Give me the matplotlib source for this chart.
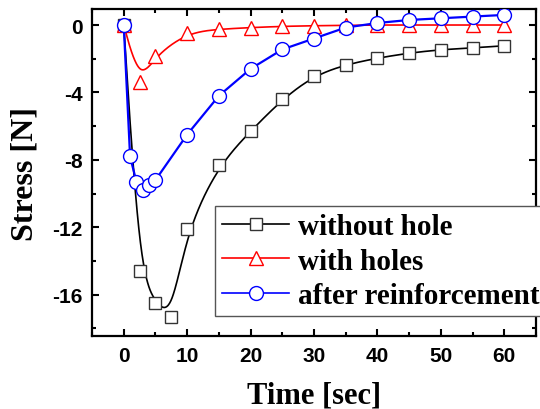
import numpy as np
import matplotlib.pyplot as plt
from matplotlib.ticker import MultipleLocator

plt.rcParams['axes.unicode_minus'] = False

# data
t_nohole = [0, 2.5, 5, 7.5, 10, 15, 20, 25, 30, 35, 40, 45, 50, 55, 60]
s_nohole = [0, -14.6, -16.5, -17.3, -12.1, -8.3, -6.3, -4.4, -3.0, -2.35,
            -1.96, -1.66, -1.46, -1.36, -1.23]

t_holes = [0, 2.5, 5, 10, 15, 20, 25, 30, 35, 40, 45, 50, 55, 60]
s_holes = [0, -3.4, -1.82, -0.45, -0.25, -0.15, -0.08, -0.04, -0.02,
           0, 0, 0, 0, 0]

t_reinf = [0, 1, 2, 3, 4, 5, 10, 15, 20, 25, 30, 35, 40, 45, 50, 55, 60]
s_reinf = [0, -7.8, -9.3, -9.8, -9.5, -9.2, -6.5, -4.2, -2.6, -1.45, -0.8,
           -0.15, 0.12, 0.3, 0.4, 0.5, 0.6]


def bspline(x, y, n=40):
    # cubic uniform B-spline through the end points (Origin-like smoothing)
    px = np.r_[x[0], x[0], x, x[-1], x[-1]].astype(float)
    py = np.r_[y[0], y[0], y, y[-1], y[-1]].astype(float)
    t = np.linspace(0, 1, n)
    b0 = (1 - t) ** 3 / 6
    b1 = (3 * t**3 - 6 * t**2 + 4) / 6
    b2 = (-3 * t**3 + 3 * t**2 + 3 * t + 1) / 6
    b3 = t**3 / 6
    xs, ys = [], []
    for i in range(len(px) - 3):
        xs.append(b0 * px[i] + b1 * px[i+1] + b2 * px[i+2] + b3 * px[i+3])
        ys.append(b0 * py[i] + b1 * py[i+1] + b2 * py[i+2] + b3 * py[i+3])
    return np.concatenate(xs), np.concatenate(ys)


serif = ['Liberation Serif', 'DejaVu Serif']
sans = ['Liberation Sans', 'DejaVu Sans']

fig = plt.figure(figsize=(5.4, 4.1), dpi=100)
ax = fig.add_axes([0.1704, 0.178, 0.8222, 0.7976])

# without hole
bx, by = bspline(t_nohole, s_nohole)
ax.plot(bx, by, color='black', lw=1.2, zorder=2)
ax.plot(t_nohole, s_nohole, ls='none', marker='s', ms=9, mfc='white',
        mec='#333333', mew=1.0, zorder=3)
# with holes
rx, ry = bspline(t_holes, s_holes)
ax.plot(rx, ry, color='red', lw=1.2, zorder=4)
ax.plot(t_holes, s_holes, ls='none', marker='^', ms=10, mfc='white',
        mec='red', mew=1.0, zorder=5)
# after reinforcement
ax.plot(t_reinf, s_reinf, color='blue', lw=1.6, marker='o', ms=10,
        mfc='white', mec='blue', mew=1.0, zorder=6)

# legend proxies
h1, = ax.plot([], [], color='black', lw=1.2, marker='s', ms=9, mfc='white',
              mec='#333333', mew=1.0)
h2, = ax.plot([], [], color='red', lw=1.2, marker='^', ms=10, mfc='white',
              mec='red', mew=1.0)
h3, = ax.plot([], [], color='blue', lw=1.2, marker='o', ms=10, mfc='white',
              mec='blue', mew=1.0)
leg = ax.legend([h1, h2, h3], ['without hole', 'with holes', 'after reinforcement'],
                loc='upper left', bbox_to_anchor=(215 / 540, 1 - 207 / 410),
                bbox_transform=fig.transFigure,
                prop=dict(family=serif, weight='bold', size=21),
                handlelength=2.3, handletextpad=0.3, labelspacing=0.25,
                borderpad=0.25, borderaxespad=0, fancybox=False,
                edgecolor='#555555', framealpha=1)
leg.get_frame().set_linewidth(1.0)
leg.set_zorder(10)

ax.set_xlim(-5, 65)
ax.set_ylim(-18.45, 0.95)
ax.xaxis.set_major_locator(MultipleLocator(10))
ax.xaxis.set_minor_locator(MultipleLocator(5))
ax.yaxis.set_major_locator(MultipleLocator(4))
ax.yaxis.set_minor_locator(MultipleLocator(2))
ax.tick_params(which='both', direction='in', top=True, right=True, width=1.5)
ax.tick_params(which='major', length=5, pad=7)
ax.tick_params(which='minor', length=3)
for sp in ax.spines.values():
    sp.set_linewidth(1.6)
for lab in ax.get_xticklabels() + ax.get_yticklabels():
    lab.set_family(sans)
    lab.set_fontweight('bold')
    lab.set_fontsize(15)

ax.set_xlabel('Time [sec]', family=serif, weight='bold', fontsize=22, labelpad=11)
ax.set_ylabel('Stress [N]', family=serif, weight='bold', fontsize=23, labelpad=9)

plt.savefig('out.png', dpi=100)
